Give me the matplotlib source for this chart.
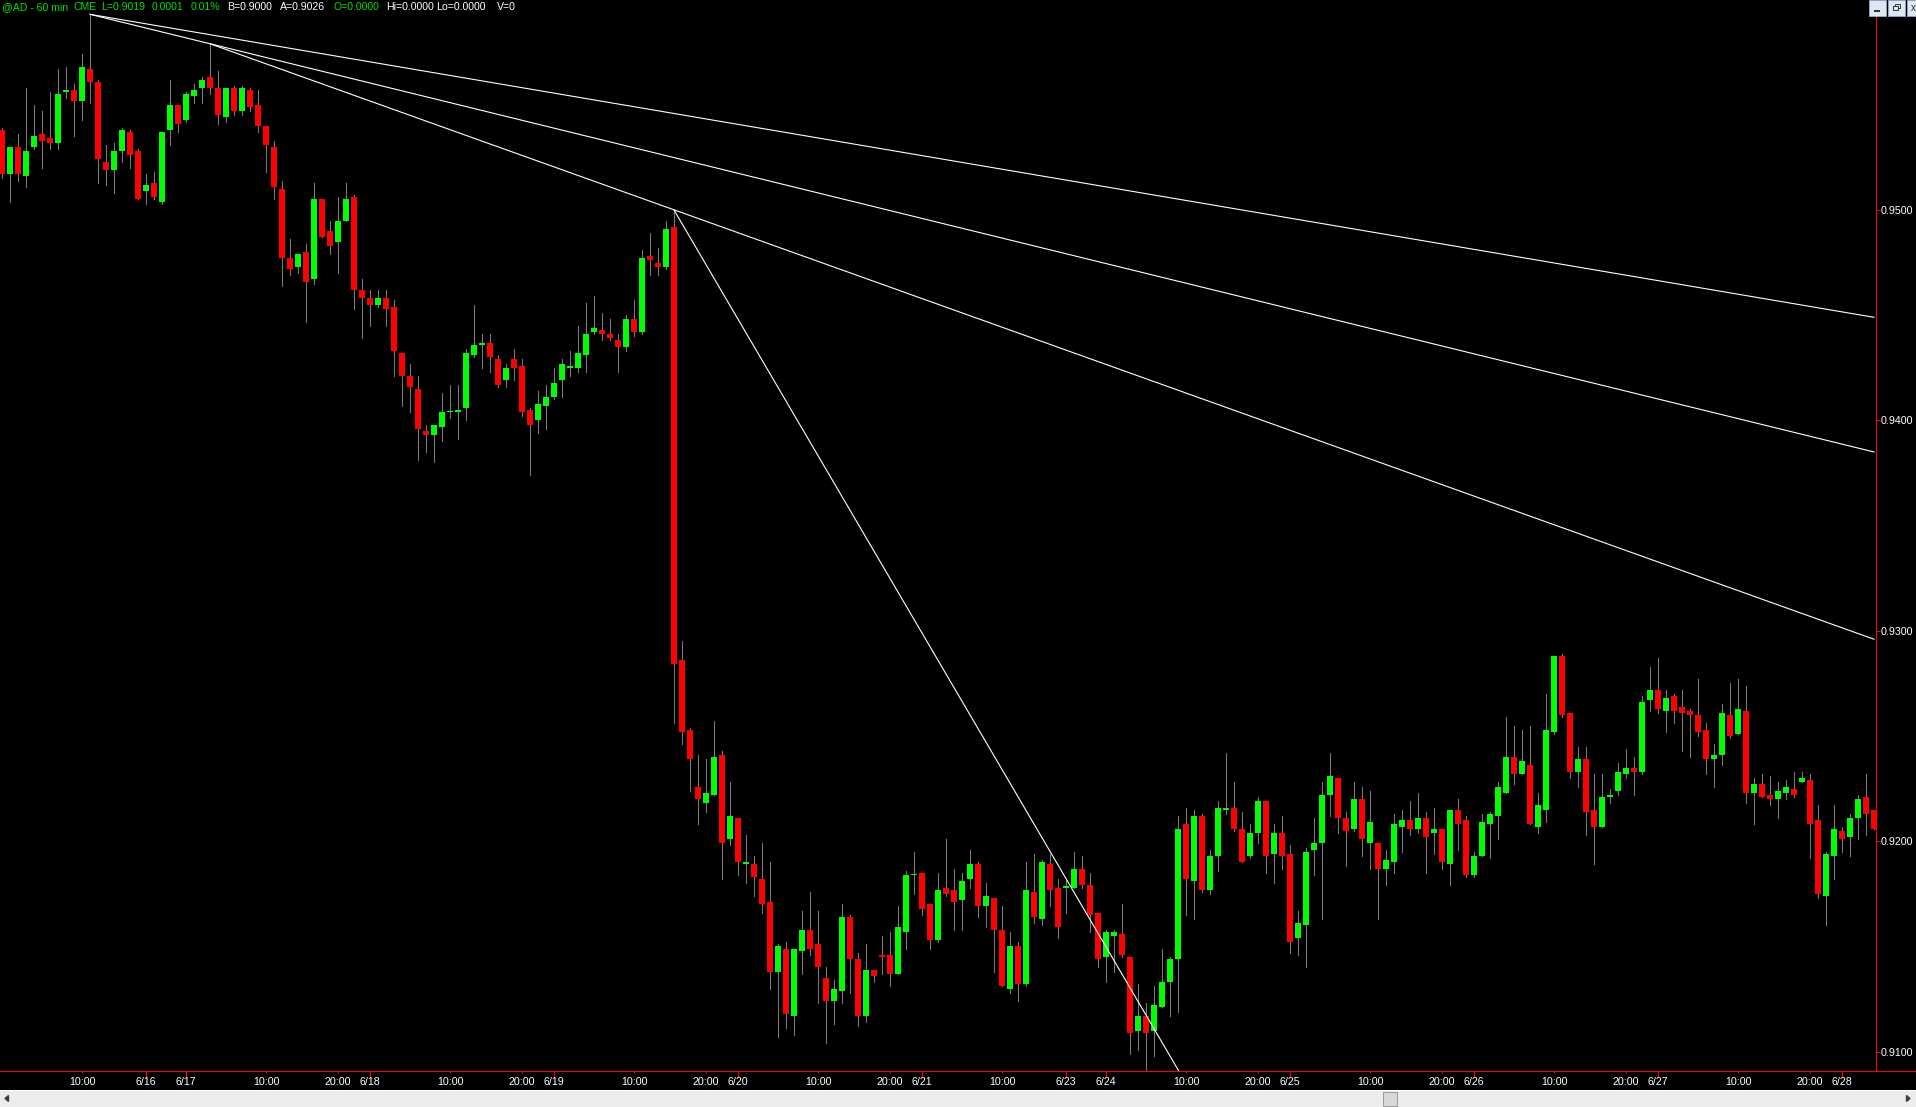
import matplotlib
matplotlib.use("Agg")
import matplotlib.pyplot as plt
from matplotlib.patches import Rectangle, Polygon
import numpy as np

plt.rcParams['font.family'] = ['Liberation Sans', 'DejaVu Sans']

# hourly bars, @AD 60 min (open, high, low, close)
opens = [0.9538, 0.9517, 0.9530, 0.9516, 0.9530, 0.9536, 0.9534, 0.9532, 0.9556, 0.9557,
         0.9552, 0.9567, 0.9561, 0.9523, 0.9519, 0.9528, 0.9537, 0.9528, 0.9509, 0.9513,
         0.9504, 0.9538, 0.9550, 0.9543, 0.9554, 0.9558, 0.9563, 0.9558, 0.9544, 0.9558,
         0.9547, 0.9557, 0.9550, 0.9540, 0.9530, 0.9510, 0.9477, 0.9473, 0.9480, 0.9467,
         0.9505, 0.9490, 0.9485, 0.9495, 0.9506, 0.9462, 0.9458, 0.9455, 0.9458, 0.9454,
         0.9432, 0.9421, 0.9415, 0.9395, 0.9393, 0.9397, 0.9404, 0.9404, 0.9406, 0.9431,
         0.9436, 0.9437, 0.9429, 0.9419, 0.9429, 0.9426, 0.9405, 0.9400, 0.9407, 0.9411,
         0.9419, 0.9425, 0.9425, 0.9431, 0.9442, 0.9443, 0.9441, 0.9438, 0.9435, 0.9448,
         0.9442, 0.9478, 0.9475, 0.9473, 0.9492, 0.9286, 0.9253, 0.9226, 0.9218, 0.9222,
         0.9241, 0.9201, 0.9211, 0.9189, 0.9189, 0.9182, 0.9171, 0.9138, 0.9149, 0.9117,
         0.9148, 0.9158, 0.9151, 0.9135, 0.9124, 0.9129, 0.9164, 0.9144, 0.9117, 0.9139,
         0.9146, 0.9146, 0.9137, 0.9157, 0.9184, 0.9185, 0.9170, 0.9153, 0.9178, 0.9177,
         0.9172, 0.9182, 0.9189, 0.9169, 0.9173, 0.9158, 0.9130, 0.9150, 0.9132, 0.9176,
         0.9163, 0.9189, 0.9178, 0.9178, 0.9178, 0.9187, 0.9179, 0.9166, 0.9145, 0.9155,
         0.9156, 0.9145, 0.9110, 0.9117, 0.9110, 0.9121, 0.9133, 0.9144, 0.9208, 0.9181,
         0.9212, 0.9177, 0.9193, 0.9215, 0.9216, 0.9206, 0.9193, 0.9204, 0.9219, 0.9194,
         0.9204, 0.9194, 0.9154, 0.9160, 0.9196, 0.9199, 0.9222, 0.9230, 0.9211, 0.9206,
         0.9220, 0.9199, 0.9199, 0.9187, 0.9190, 0.9207, 0.9210, 0.9206, 0.9211, 0.9204,
         0.9206, 0.9189, 0.9215, 0.9210, 0.9184, 0.9193, 0.9208, 0.9212, 0.9223, 0.9240,
         0.9232, 0.9236, 0.9207, 0.9215, 0.9252, 0.9288, 0.9261, 0.9233, 0.9239, 0.9215,
         0.9207, 0.9221, 0.9224, 0.9232, 0.9235, 0.9233, 0.9267, 0.9272, 0.9262, 0.9269,
         0.9264, 0.9262, 0.9260, 0.9253, 0.9239, 0.9241, 0.9260, 0.9251, 0.9262, 0.9223,
         0.9227, 0.9222, 0.9220, 0.9223, 0.9225, 0.9228, 0.9229, 0.9210, 0.9174, 0.9193,
         0.9205, 0.9202, 0.9211, 0.9221, 0.9215]
highs = [0.9539, 0.9530, 0.9536, 0.9558, 0.9550, 0.9547, 0.9556, 0.9567, 0.9568, 0.9560,
         0.9574, 0.9593, 0.9562, 0.9531, 0.9532, 0.9539, 0.9538, 0.9529, 0.9517, 0.9518,
         0.9537, 0.9562, 0.9550, 0.9556, 0.9560, 0.9563, 0.9579, 0.9566, 0.9558, 0.9559,
         0.9559, 0.9558, 0.9557, 0.9540, 0.9533, 0.9514, 0.9486, 0.9479, 0.9484, 0.9513,
         0.9505, 0.9495, 0.9506, 0.9513, 0.9507, 0.9467, 0.9462, 0.9462, 0.9462, 0.9457,
         0.9432, 0.9427, 0.9421, 0.9398, 0.9398, 0.9413, 0.9417, 0.9417, 0.9434, 0.9455,
         0.9441, 0.9441, 0.9431, 0.9427, 0.9434, 0.9429, 0.9406, 0.9414, 0.9417, 0.9425,
         0.9429, 0.9433, 0.9445, 0.9456, 0.9459, 0.9451, 0.9448, 0.9441, 0.9450, 0.9457,
         0.9481, 0.9489, 0.9482, 0.9495, 0.9500, 0.9295, 0.9254, 0.9241, 0.9239, 0.9257,
         0.9243, 0.9228, 0.9211, 0.9203, 0.9193, 0.9199, 0.9190, 0.9151, 0.9152, 0.9149,
         0.9167, 0.9176, 0.9167, 0.9140, 0.9134, 0.9170, 0.9165, 0.9147, 0.9151, 0.9139,
         0.9155, 0.9157, 0.9169, 0.9186, 0.9195, 0.9185, 0.9170, 0.9185, 0.9201, 0.9187,
         0.9185, 0.9196, 0.9190, 0.9180, 0.9173, 0.9169, 0.9157, 0.9152, 0.9190, 0.9194,
         0.9191, 0.9194, 0.9182, 0.9182, 0.9195, 0.9193, 0.9185, 0.9166, 0.9158, 0.9158,
         0.9170, 0.9145, 0.9132, 0.9123, 0.9131, 0.9149, 0.9145, 0.9212, 0.9216, 0.9215,
         0.9213, 0.9196, 0.9219, 0.9242, 0.9228, 0.9214, 0.9208, 0.9221, 0.9219, 0.9208,
         0.9212, 0.9198, 0.9167, 0.9197, 0.9211, 0.9228, 0.9242, 0.9230, 0.9214, 0.9228,
         0.9226, 0.9224, 0.9199, 0.9196, 0.9213, 0.9215, 0.9219, 0.9223, 0.9214, 0.9216,
         0.9206, 0.9215, 0.9220, 0.9212, 0.9195, 0.9213, 0.9214, 0.9228, 0.9259, 0.9255,
         0.9253, 0.9255, 0.9223, 0.9270, 0.9288, 0.9289, 0.9261, 0.9245, 0.9245, 0.9232,
         0.9232, 0.9225, 0.9237, 0.9244, 0.9240, 0.9269, 0.9283, 0.9287, 0.9272, 0.9270,
         0.9272, 0.9263, 0.9277, 0.9256, 0.9246, 0.9265, 0.9275, 0.9277, 0.9274, 0.9230,
         0.9232, 0.9231, 0.9228, 0.9229, 0.9233, 0.9233, 0.9232, 0.9217, 0.9195, 0.9217,
         0.9207, 0.9213, 0.9222, 0.9232, 0.9215]
lows = [0.9515, 0.9504, 0.9514, 0.9511, 0.9529, 0.9520, 0.9529, 0.9529, 0.9553, 0.9535,
        0.9543, 0.9551, 0.9513, 0.9512, 0.9508, 0.9523, 0.9520, 0.9505, 0.9503, 0.9505,
        0.9503, 0.9531, 0.9537, 0.9542, 0.9551, 0.9551, 0.9555, 0.9541, 0.9542, 0.9545,
        0.9545, 0.9547, 0.9537, 0.9518, 0.9505, 0.9464, 0.9469, 0.9470, 0.9447, 0.9465,
        0.9487, 0.9479, 0.9470, 0.9495, 0.9453, 0.9439, 0.9445, 0.9454, 0.9445, 0.9421,
        0.9407, 0.9404, 0.9381, 0.9385, 0.9380, 0.9390, 0.9401, 0.9391, 0.9400, 0.9430,
        0.9425, 0.9423, 0.9416, 0.9416, 0.9419, 0.9402, 0.9374, 0.9394, 0.9396, 0.9410,
        0.9411, 0.9421, 0.9423, 0.9423, 0.9441, 0.9438, 0.9438, 0.9423, 0.9433, 0.9440,
        0.9441, 0.9469, 0.9469, 0.9472, 0.9256, 0.9246, 0.9224, 0.9208, 0.9214, 0.9222,
        0.9182, 0.9198, 0.9184, 0.9180, 0.9174, 0.9166, 0.9130, 0.9107, 0.9111, 0.9108,
        0.9137, 0.9146, 0.9123, 0.9104, 0.9113, 0.9123, 0.9128, 0.9112, 0.9114, 0.9133,
        0.9137, 0.9131, 0.9137, 0.9149, 0.9175, 0.9165, 0.9149, 0.9152, 0.9174, 0.9158,
        0.9158, 0.9178, 0.9164, 0.9159, 0.9138, 0.9131, 0.9128, 0.9124, 0.9131, 0.9161,
        0.9160, 0.9169, 0.9154, 0.9166, 0.9178, 0.9178, 0.9157, 0.9140, 0.9133, 0.9138,
        0.9145, 0.9099, 0.9101, 0.9091, 0.9098, 0.9121, 0.9117, 0.9119, 0.9165, 0.9163,
        0.9176, 0.9175, 0.9186, 0.9213, 0.9205, 0.9190, 0.9192, 0.9199, 0.9185, 0.9180,
        0.9187, 0.9147, 0.9146, 0.9140, 0.9184, 0.9163, 0.9212, 0.9204, 0.9188, 0.9205,
        0.9193, 0.9187, 0.9163, 0.9179, 0.9185, 0.9195, 0.9203, 0.9204, 0.9185, 0.9194,
        0.9187, 0.9179, 0.9196, 0.9183, 0.9183, 0.9193, 0.9192, 0.9201, 0.9223, 0.9227,
        0.9232, 0.9208, 0.9204, 0.9209, 0.9251, 0.9259, 0.9230, 0.9226, 0.9203, 0.9189,
        0.9207, 0.9218, 0.9222, 0.9230, 0.9222, 0.9232, 0.9262, 0.9261, 0.9252, 0.9256,
        0.9243, 0.9240, 0.9250, 0.9232, 0.9226, 0.9236, 0.9249, 0.9251, 0.9218, 0.9208,
        0.9221, 0.9217, 0.9211, 0.9220, 0.9221, 0.9228, 0.9192, 0.9173, 0.9160, 0.9182,
        0.9195, 0.9193, 0.9201, 0.9203, 0.9206]
closes = [0.9517, 0.9530, 0.9517, 0.9528, 0.9535, 0.9533, 0.9532, 0.9555, 0.9557, 0.9552,
          0.9568, 0.9561, 0.9524, 0.9519, 0.9528, 0.9538, 0.9526, 0.9505, 0.9512, 0.9506,
          0.9537, 0.9550, 0.9541, 0.9555, 0.9557, 0.9562, 0.9558, 0.9545, 0.9558, 0.9547,
          0.9558, 0.9549, 0.9540, 0.9531, 0.9511, 0.9477, 0.9472, 0.9479, 0.9466, 0.9505,
          0.9487, 0.9483, 0.9495, 0.9505, 0.9462, 0.9458, 0.9455, 0.9458, 0.9453, 0.9433,
          0.9421, 0.9416, 0.9396, 0.9393, 0.9398, 0.9404, 0.9404, 0.9405, 0.9432, 0.9436,
          0.9437, 0.9430, 0.9417, 0.9425, 0.9425, 0.9404, 0.9398, 0.9408, 0.9411, 0.9418,
          0.9427, 0.9426, 0.9432, 0.9441, 0.9444, 0.9441, 0.9439, 0.9435, 0.9448, 0.9442,
          0.9477, 0.9476, 0.9473, 0.9491, 0.9284, 0.9252, 0.9239, 0.9220, 0.9223, 0.9240,
          0.9199, 0.9212, 0.9190, 0.9190, 0.9183, 0.9170, 0.9138, 0.9150, 0.9118, 0.9149,
          0.9158, 0.9149, 0.9140, 0.9124, 0.9130, 0.9164, 0.9144, 0.9117, 0.9139, 0.9136,
          0.9145, 0.9137, 0.9159, 0.9184, 0.9184, 0.9168, 0.9153, 0.9177, 0.9175, 0.9171,
          0.9181, 0.9189, 0.9169, 0.9174, 0.9158, 0.9131, 0.9150, 0.9132, 0.9177, 0.9164,
          0.9190, 0.9177, 0.9159, 0.9178, 0.9187, 0.9179, 0.9165, 0.9144, 0.9157, 0.9157,
          0.9146, 0.9109, 0.9117, 0.9109, 0.9122, 0.9133, 0.9144, 0.9206, 0.9182, 0.9212,
          0.9177, 0.9193, 0.9216, 0.9216, 0.9206, 0.9190, 0.9204, 0.9219, 0.9193, 0.9204,
          0.9193, 0.9152, 0.9161, 0.9195, 0.9199, 0.9222, 0.9231, 0.9211, 0.9205, 0.9220,
          0.9201, 0.9209, 0.9187, 0.9191, 0.9208, 0.9210, 0.9206, 0.9211, 0.9202, 0.9206,
          0.9190, 0.9215, 0.9208, 0.9184, 0.9193, 0.9209, 0.9213, 0.9226, 0.9240, 0.9232,
          0.9238, 0.9208, 0.9217, 0.9253, 0.9288, 0.9260, 0.9233, 0.9239, 0.9214, 0.9207,
          0.9221, 0.9222, 0.9233, 0.9235, 0.9233, 0.9266, 0.9272, 0.9263, 0.9268, 0.9262,
          0.9261, 0.9260, 0.9252, 0.9239, 0.9241, 0.9261, 0.9250, 0.9263, 0.9223, 0.9227,
          0.9221, 0.9220, 0.9224, 0.9226, 0.9222, 0.9230, 0.9208, 0.9175, 0.9194, 0.9206,
          0.9201, 0.9211, 0.9220, 0.9213, 0.9206]

# time axis labels (bar index -> label)
tick_idx = [10, 18, 23, 33, 42, 46, 56, 65, 69, 79, 88, 92, 102, 111, 115, 125, 133, 138,
            148, 157, 161, 171, 180, 184, 194, 203, 207, 217, 226, 230]
tick_lbl = ['10:00', '6/16', '6/17', '10:00', '20:00', '6/18', '10:00', '20:00', '6/19',
            '10:00', '20:00', '6/20', '10:00', '20:00', '6/21', '10:00', '6/23', '6/24',
            '10:00', '20:00', '6/25', '10:00', '20:00', '6/26', '10:00', '20:00', '6/27',
            '10:00', '20:00', '6/28']
price_ticks = [0.9100, 0.9200, 0.9300, 0.9400, 0.9500]

# drawn trendlines: (bar, price) -> (bar, price)
trend_start = [(11, 0.9593), (11, 0.9593), (26, 0.9579), (84, 0.9500)]
trend_end = [(234, 0.9449), (234, 0.9385), (234, 0.9296), (150, 0.9072)]

W, H = 1916, 1107
fig = plt.figure(figsize=(W / 100, H / 100), dpi=100, facecolor='black')
ax_bottom = 1071
ax_right = 1875.5
ax = fig.add_axes([0, (H - ax_bottom) / H, ax_right / W, ax_bottom / H])
ax.set_facecolor('black')

x = np.arange(len(opens))
o = np.array(opens)
hi = np.array(highs)
lo = np.array(lows)
c = np.array(closes)
up = c >= o
cols = np.where(up, '#00ff00', '#ff0000')

ax.vlines(x, lo, hi, color='#7a7a7a', lw=0.6, antialiased=False, zorder=2)
body_h = np.maximum(np.abs(c - o), 0.00005)
ax.bar(x, body_h, bottom=np.minimum(o, c), width=0.64, color=cols,
       linewidth=0, antialiased=False, zorder=3)

for (x0, p0), (x1, p1) in zip(trend_start, trend_end):
    ax.plot([x0, x1], [p0, p1], color='white', lw=0.8, zorder=4)

ax.set_xlim(-0.25, 234.19)
ax.set_ylim(0.90908, 0.95998)

for s in ['top', 'left']:
    ax.spines[s].set_visible(False)
for s in ['right', 'bottom']:
    ax.spines[s].set_color('#ff0000')
    ax.spines[s].set_linewidth(0.55)
    ax.spines[s].set_antialiased(False)

fs = 7.7
ax.yaxis.tick_right()
ax.set_yticks(price_ticks, [f'{p:.4f}' for p in price_ticks])
ax.set_xticks(tick_idx, tick_lbl)
ax.tick_params(axis='y', color='#ff0000', labelcolor='white', length=3, width=0.8,
               pad=1, labelsize=fs)
ax.tick_params(axis='x', color='#ff0000', labelcolor='white', length=1.6, width=0.8,
               pad=3.0, labelsize=fs)
for t, lbl in zip(ax.xaxis.get_major_ticks(len(tick_idx)), tick_lbl):
    if '/' in lbl:
        t.tick1line.set_markersize(4)

# red baseline continues under the price scale
fig.add_artist(plt.Line2D([ax_right / W, 1], [(H - ax_bottom) / H] * 2,
                          color='#ff0000', lw=0.55, antialiased=False,
                          transform=fig.transFigure))

# header line
green = '#00e000'
header = [(2, '@AD - 60 min', green), (74, 'CME', green), (101, 'L=0.9019', green),
          (152, '0.0001', green), (191, '0.01%', green), (227, 'B=0.9000', 'white'),
          (280, 'A=0.9026', 'white'), (333, 'O=0.0000', green),
          (386, 'Hi=0.0000', 'white'), (436, 'Lo=0.0000', 'white'), (497, 'V=0', 'white')]
for px, s, col in header:
    fig.text(px / W, 1 - 7.5 / H, s, color=col, fontsize=7.6, ha='left', va='center')

# scrollbar
def px_rect(x0, y0, w, h, **kw):
    fig.add_artist(Rectangle((x0 / W, 1 - (y0 + h) / H), w / W, h / H,
                             transform=fig.transFigure, **kw))

px_rect(0, 1090, W, 17, facecolor='#ececec', edgecolor='none')
px_rect(0, 1090, W, 1, facecolor='#ffffff', edgecolor='none')
px_rect(1382.5, 1092, 14, 14, facecolor='#d8d8d8', edgecolor='#9a9a9a', lw=0.7)
fig.add_artist(Polygon([(5 / W, 1 - 1098.5 / H), (8.5 / W, 1 - 1095.5 / H), (8.5 / W, 1 - 1101.5 / H)],
                       closed=True, transform=fig.transFigure, color='#404040'))
fig.add_artist(Polygon([(1910 / W, 1 - 1098.5 / H), (1906.5 / W, 1 - 1095.5 / H), (1906.5 / W, 1 - 1101.5 / H)],
                       closed=True, transform=fig.transFigure, color='#404040'))

# window buttons at top right
for bx, bw in [(1869, 17), (1888, 17), (1907, 12)]:
    px_rect(bx, 0, bw, 16, facecolor='#dde6f1', edgecolor='#8ea3bf', lw=0.7)
px_rect(1874, 10, 6, 1.5, facecolor='#333333', edgecolor='none')
px_rect(1895, 4, 5, 4, facecolor='none', edgecolor='#333333', lw=0.7)
px_rect(1893, 6, 5, 4, facecolor='#dde6f1', edgecolor='#333333', lw=0.7)
fig.text(1911 / W, 1 - 8 / H, 'x', color='#333333', fontsize=7, ha='left', va='center')

fig.savefig('out.png', dpi=100, facecolor='black')
